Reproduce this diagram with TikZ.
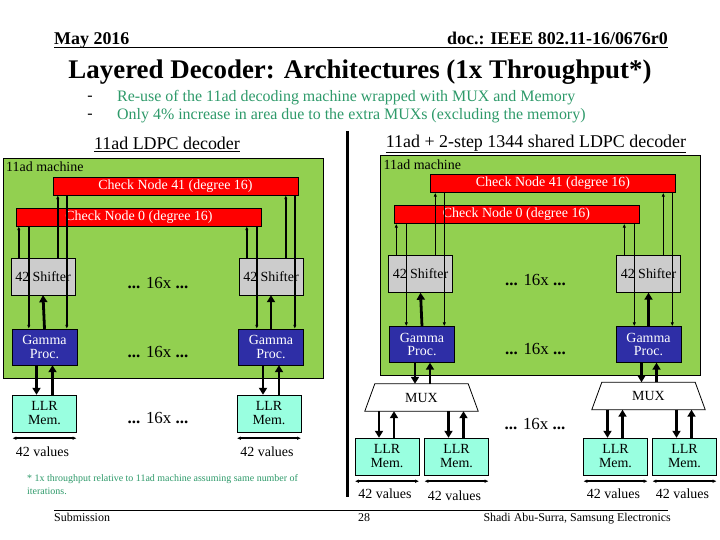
\documentclass[tikz,border=0pt]{standalone}
\usepackage{fontspec}
\setmainfont{Liberation Serif}
\usetikzlibrary{arrows.meta,calc}
\definecolor{MachGreen}{HTML}{92D050}
\definecolor{CNRed}{HTML}{FF0000}
\definecolor{ShGray}{HTML}{CCCCCC}
\definecolor{GmBlue}{HTML}{2E2EA6}
\definecolor{LLRAqua}{HTML}{99FFE0}
\definecolor{NoteGreen}{HTML}{2E9A6A}
\newcommand{\fs}[1]{\fontsize{#1}{#1}\selectfont}
\tikzset{
  blk/.style={draw=black,inner sep=0pt,align=center,font=\fs{14}},
  mach/.style={draw=black,fill=MachGreen,inner sep=0pt},
  cnode/.style={blk,fill=CNRed,text=white,minimum width=245bp,minimum height=18bp},
  shifter/.style={blk,fill=ShGray,minimum width=64bp,minimum height=37bp},
  gamma/.style={blk,fill=GmBlue,text=white,minimum width=65bp,minimum height=36bp},
  llr/.style={blk,fill=LLRAqua,minimum width=64bp,minimum height=37bp},
  mux/.style={inner sep=0pt,font=\fs{14},minimum width=113bp,minimum height=27bp},
  lbl/.style={inner sep=0pt,font=\fs{14}},
  dots/.style={inner sep=0pt,font=\fs{17}},
  tarr/.style={-{Latex[length=4bp,width=3.5bp]},line width=1.4bp},
  barr/.style={-{Triangle[length=7bp,width=8bp]},line width=2.8bp},
  warr/.style={{Latex[length=4bp,width=3.5bp]}-{Latex[length=4bp,width=3.5bp]},line width=1.5bp}
}
\begin{document}
\begin{tikzpicture}[x=1bp,y=-1bp]
  \useasboundingbox[fill=white] (0,0) rectangle (720,540);
  % header and title
  \node[anchor=base west,inner sep=0pt,font=\bfseries\fs{18}] (date) at (54,45) {May 2016};
  \node[anchor=base east,inner sep=0pt,font=\bfseries\fs{18}] (doc) at (668,45) {doc.: IEEE 802.11-16/0676r0};
  \draw[line width=1bp] ($(date.base west)+(0,3)$) -- ($(doc.base east)+(0,3)$);
  \node[inner sep=0pt,font=\bfseries\fs{27}] (title) at (360,72) {Layered Decoder: Architectures (1x Throughput*)};
  \node[lbl,font=\fs{16}] (dashA) at (90,98) {-};
  \node[lbl,font=\fs{16}] (dashB) at (90,116) {-};
  \node[lbl,anchor=west,font=\fs{16},text=NoteGreen] (bulA) at (117,98) {Re-use of the 11ad decoding machine wrapped with MUX and Memory};
  \node[lbl,anchor=west,font=\fs{16},text=NoteGreen] (bulB) at (117,116) {Only 4\% increase in area due to the extra MUXs (excluding the memory)};
  \node[lbl,font=\fs{18}] (headL) at (167,144) {\underline{11ad LDPC decoder}};
  \node[lbl,font=\fs{18}] (headR) at (536,144) {\underline{11ad + 2-step 1344 shared LDPC decoder}};
  \draw[line width=3bp] (347,131) -- (347,497);

  % the two 11ad machines
  \foreach \m/\dx/\dy in {L/0/0,R/377.5/-2.5}{
  \begin{scope}[shift={(\dx,\dy)}]
    \node[mach,minimum width=320bp,minimum height=220bp] (\m box) at (163,268) {};
    \node[lbl,anchor=west] (\m lab) at (6,167) {11ad machine};
    \node[cnode] (\m cnH) at (175.5,186) {Check Node 41 (degree 16)};
    \node[cnode] (\m cnZ) at (139,217) {Check Node 0 (degree 16)};
    \node[shifter] (\m shA) at (43,276.5) {42 Shifter};
    \node[shifter] (\m shB) at (271,276.5) {42 Shifter};
    \node[gamma] (\m gmA) at (44.5,347) {Gamma\\Proc.};
    \node[gamma] (\m gmB) at (271,347) {Gamma\\Proc.};
    \node[dots] (\m dA) at (158,283) {\textbf{...} 16x \textbf{...}};
    \node[dots] (\m dB) at (158,352) {\textbf{...} 16x \textbf{...}};
    \foreach \s in {A,B}{
      \path (\m sh\s.north west) ++(8,0) coordinate (\m\s p) ++(10,0) coordinate (\m\s q)
            ++(29,0) coordinate (\m\s r) ++(9,0) coordinate (\m\s t);
      \draw[tarr] (\m\s p) -- (\m\s p |- \m cnZ.south);
      \draw[tarr] (\m\s q |- \m cnZ.south) -- (\m\s q |- \m gm\s.north);
      \draw[tarr] (\m\s r) -- (\m\s r |- \m cnH.south);
      \draw[tarr] (\m\s t |- \m cnH.south) -- (\m\s t |- \m gm\s.north);
      \draw[barr] (\m gm\s.south |- \m gm\s.north) -- (\m sh\s.south);
    }
  \end{scope}
  }

  % left memories
  \node[llr] (llrA) at (44.5,413.5) {LLR\\Mem.};
  \node[llr] (llrB) at (269,413.5) {LLR\\Mem.};
  \node[dots] (dLL) at (158,418) {\textbf{...} 16x \textbf{...}};
  \foreach \g/\l in {LgmA/llrA,LgmB/llrB}{
    \draw[barr] ($(\g.south)+(-8,0)$) -- ($(\l.north -| \g.south)+(-8,0)$);
    \draw[barr] ($(\l.north -| \g.south)+(8,0)$) -- ($(\g.south)+(8,0)$);
    \draw[warr] ($(\l.south west)+(0,6)$) -- ($(\l.south east)+(0,6)$);
    \node[lbl] (val\l) at ($(\l.south)+(-2,20)$) {42 values};
  }

  % right MUXs and memories
  \node[mux] (muxA) at (421.5,397.5) {MUX};
  \node[mux] (muxB) at (648.5,396) {MUX};
  \foreach \x in {muxA,muxB}
    \draw[line width=0.8bp] ($(\x.north west)+(10,0)$) -- ($(\x.north east)+(-10,0)$)
      -- (\x.south east) -- (\x.south west) -- cycle;
  \node[llr] (llr1) at (387,456.5) {LLR\\Mem.};
  \node[llr] (llr2) at (456.5,456.5) {LLR\\Mem.};
  \node[llr] (llr3) at (615.5,456.5) {LLR\\Mem.};
  \node[llr] (llr4) at (684.5,456.5) {LLR\\Mem.};
  \node[dots] (dRL) at (535,424) {\textbf{...} 16x \textbf{...}};
  \foreach \g/\x in {RgmA/muxA,RgmB/muxB}{
    \draw[barr] ($(\g.south)+(-7,0)$) -- ($(\x.north -| \g.south)+(-7,0)$);
    \draw[barr] ($(\x.north -| \g.south)+(8,0)$) -- ($(\g.south)+(8,0)$);
  }
  \foreach \x/\l/\dv in {muxA/llr1/0,muxA/llr2/2,muxB/llr3/0,muxB/llr4/0}{
    \draw[barr] ($(\x.south -| \l.north)+(-8,0)$) -- ($(\l.north)+(-8,0)$);
    \draw[barr] ($(\l.north)+(7,0)$) -- ($(\x.south -| \l.north)+(7,0)$);
    \draw[warr] ($(\l.south west)+(0,6)$) -- ($(\l.south east)+(0,6)$);
    \node[lbl] (val\l) at ($(\l.south)+(-2,19+\dv)$) {42 values};
  }

  % footnote and footer
  \node[lbl,anchor=north west,align=left,font=\fontsize{10}{13}\selectfont,text=NoteGreen] (note) at (27,474)
    {* 1x throughput relative to 11ad machine assuming same number of\\iterations.};
  \draw[line width=1bp] (54,510) -- (668,510);
  \node[lbl,anchor=base west,font=\fs{12}] (sub) at (54,521) {Submission};
  \node[lbl,anchor=base west,font=\fs{12}] (page) at (358,521) {28};
  \node[lbl,anchor=base east,font=\fs{12}] (auth) at (671,521) {Shadi Abu-Surra, Samsung Electronics};
\end{tikzpicture}
\end{document}
